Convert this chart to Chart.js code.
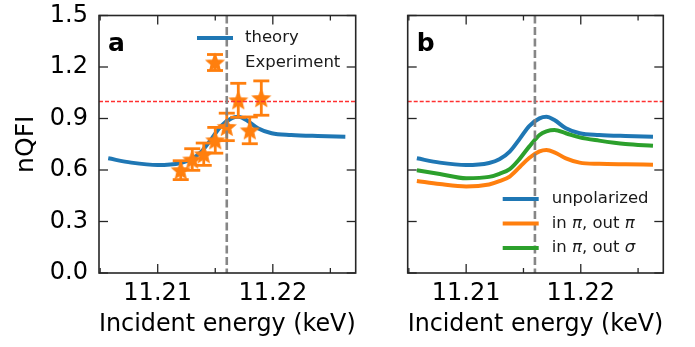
<!DOCTYPE html>
<html>
<head>
<meta charset="utf-8">
<script src="https://cdn.jsdelivr.net/npm/chart.js@4/dist/chart.umd.min.js"></script>
<style>
  body { margin: 0; background: #fff; width: 695px; height: 347px; position: relative; overflow: hidden; }
  canvas { position: absolute; top: 0; }
  #chartA { left: 0; }
  #chartB { left: 372px; }
</style>
</head>
<body>
<canvas id="chartA" width="370" height="347"></canvas>
<canvas id="chartB" width="295" height="347"></canvas>
<script>
// theory curves (keV -> nQFI)
const energy = [11.2057, 11.2077, 11.2100, 11.2120, 11.2129, 11.2138, 11.2147, 11.2155,
                11.2164, 11.2170, 11.2177, 11.2187, 11.2199, 11.2216, 11.2239, 11.2263];
const unpolarized = [0.668, 0.643, 0.629, 0.641, 0.662, 0.707, 0.784, 0.856,
                     0.901, 0.910, 0.891, 0.843, 0.814, 0.804, 0.798, 0.794];
const inPiOutPi = [0.536, 0.518, 0.504, 0.516, 0.535, 0.562, 0.619, 0.670,
                   0.708, 0.716, 0.703, 0.668, 0.643, 0.636, 0.633, 0.631];
const inPiOutSigma = [0.598, 0.577, 0.552, 0.560, 0.578, 0.605, 0.668, 0.736,
                      0.804, 0.825, 0.833, 0.814, 0.790, 0.771, 0.751, 0.741];

// experiment with error bars
const expEnergy = [11.212, 11.213, 11.214, 11.215, 11.216, 11.217, 11.218, 11.219];
const expQFI = [0.599, 0.661, 0.692, 0.773, 0.851, 1.006, 0.831, 1.019];
const expErr = [0.055, 0.063, 0.065, 0.075, 0.080, 0.099, 0.078, 0.100];

// reference lines
const edgeEnergy = 11.216;
const qfiBound = 1.0;

// axes
const xMin = 11.2049, xMax = 11.2272;
const xTickLabels = ['11.21', '11.22'];
const yTickLabels = ['0.0', '0.3', '0.6', '0.9', '1.2', '1.5'];

const FONT = 'DejaVu Sans';
const INK = '#262626';
const BLUE = '#1f77b4', ORANGE = '#ff7f0e', GREEN = '#2ca02c';

function toXY(xs, ys) { return xs.map((x, i) => ({ x: x, y: ys[i] })); }

// filled 5 point star like matplotlib '*'
function makeStar(r, color) {
  const c = document.createElement('canvas');
  const s = Math.ceil(r * 2 + 4);
  c.width = s; c.height = s;
  const g = c.getContext('2d');
  g.translate(s / 2, s / 2 + 0.8);
  g.beginPath();
  for (let i = 0; i < 10; i++) {
    const rad = i % 2 ? r * 0.45 : r;
    const a = -Math.PI / 2 + i * Math.PI / 5;
    g.lineTo(rad * Math.cos(a), rad * Math.sin(a));
  }
  g.closePath();
  g.fillStyle = color; g.fill();
  g.strokeStyle = color; g.lineWidth = 1.2; g.stroke();
  return c;
}
const star = makeStar(9, ORANGE);

function seg(ctx, x1, y1, x2, y2) {
  ctx.beginPath(); ctx.moveTo(x1, y1); ctx.lineTo(x2, y2); ctx.stroke();
}

function drawErrorBar(ctx, x, yLo, yHi) {
  ctx.save();
  ctx.strokeStyle = ORANGE;
  ctx.lineWidth = 2.8;
  seg(ctx, x, yLo, x, yHi);
  seg(ctx, x - 8, yLo, x + 8, yLo);
  seg(ctx, x - 8, yHi, x + 8, yHi);
  ctx.restore();
}

// text with italic pieces (for the greek letters)
function drawRuns(ctx, runs, x, y, size) {
  runs.forEach(r => {
    ctx.font = (r[1] ? 'italic ' : '') + size + 'px "' + FONT + '"';
    ctx.fillText(r[0], x, y);
    x += ctx.measureText(r[0]).width;
  });
}

// inward ticks on all sides + frame
const framePlugin = {
  id: 'frame',
  afterDraw(chart) {
    const { ctx, chartArea: a, scales } = chart;
    ctx.save();
    ctx.strokeStyle = INK;
    ctx.lineWidth = 1.3;
    scales.x.ticks.forEach(t => {
      const px = scales.x.getPixelForValue(t.value);
      const len = t.label ? 9 : 5;
      seg(ctx, px, a.bottom, px, a.bottom - len);
      seg(ctx, px, a.top, px, a.top + len);
    });
    scales.y.ticks.forEach(t => {
      const py = scales.y.getPixelForValue(t.value);
      const len = t.label ? 9 : 5;
      seg(ctx, a.left, py, a.left + len, py);
      seg(ctx, a.right, py, a.right - len, py);
    });
    ctx.lineWidth = 1.6;
    ctx.strokeRect(a.left, a.top, a.right - a.left, a.bottom - a.top);
    ctx.restore();
  }
};

// red bound line and gray edge line on top of the data
const refLines = {
  id: 'refLines',
  afterDatasetsDraw(chart) {
    const { ctx, chartArea: a, scales } = chart;
    const px = scales.x.getPixelForValue(edgeEnergy);
    const py = Math.round(scales.y.getPixelForValue(qfiBound)) + 0.5;
    ctx.save();
    ctx.strokeStyle = '#ff3030';
    ctx.lineWidth = 1.4;
    ctx.setLineDash([4, 2]);
    seg(ctx, a.left, py, a.right, py);
    ctx.strokeStyle = 'rgba(128,128,128,0.95)';
    ctx.lineWidth = 2.6;
    ctx.setLineDash([8, 3.5]);
    seg(ctx, px, a.top, px, a.bottom);
    ctx.restore();
  }
};

const errorBars = {
  id: 'errorBars',
  beforeDatasetDraw(chart, args) {
    const ds = chart.data.datasets[args.index];
    if (!ds.errors) return;
    const { x, y } = chart.scales;
    ds.data.forEach((p, i) => {
      drawErrorBar(chart.ctx, x.getPixelForValue(p.x),
        y.getPixelForValue(p.y - ds.errors[i]), y.getPixelForValue(p.y + ds.errors[i]));
    });
  }
};

function panelLabel(letter) {
  return {
    id: 'panelLabel',
    afterDraw(chart) {
      const { ctx, chartArea: a } = chart;
      ctx.save();
      ctx.fillStyle = '#000';
      ctx.font = 'bold 25px "' + FONT + '"';
      ctx.textBaseline = 'alphabetic';
      ctx.fillText(letter, a.left + 9, a.top + 35);
      ctx.restore();
    }
  };
}

const legendA = {
  id: 'legendA',
  afterDraw(chart) {
    const { ctx, chartArea: a } = chart;
    const x0 = a.left + 98, y1 = a.top + 22.5, y2 = a.top + 47;
    ctx.save();
    ctx.strokeStyle = BLUE; ctx.lineWidth = 4;
    seg(ctx, x0, y1, x0 + 36, y1);
    drawErrorBar(ctx, x0 + 18, y2 + 8, y2 - 8);
    ctx.drawImage(star, x0 + 18 - star.width / 2, y2 - star.height / 2);
    ctx.fillStyle = '#1a1a1a';
    ctx.textBaseline = 'middle';
    drawRuns(ctx, [['theory']], x0 + 48, y1, 16.5);
    drawRuns(ctx, [['Experiment']], x0 + 48, y2, 16.5);
    ctx.restore();
  }
};

const legendB = {
  id: 'legendB',
  afterDraw(chart) {
    const { ctx, chartArea: a } = chart;
    const rows = [
      [BLUE, [['unpolarized']]],
      [ORANGE, [['in '], ['π', true], [', out '], ['π', true]]],
      [GREEN, [['in '], ['π', true], [', out '], ['σ', true]]]
    ];
    const x0 = a.left + 95;
    ctx.save();
    ctx.textBaseline = 'middle';
    rows.forEach((r, i) => {
      const y = a.top + 183.5 + i * 24.5;
      ctx.strokeStyle = r[0]; ctx.lineWidth = 4;
      seg(ctx, x0, y, x0 + 36, y);
      ctx.fillStyle = '#1a1a1a';
      drawRuns(ctx, r[1], x0 + 49, y, 16.5);
    });
    ctx.restore();
  }
};

function makeOptions(leftWidth, rightPad, showY) {
  return {
    responsive: false,
    animation: false,
    devicePixelRatio: 1,
    layout: { padding: { top: 15.5, right: rightPad, left: 0, bottom: 0 } },
    plugins: { legend: { display: false }, tooltip: { enabled: false } },
    scales: {
      x: {
        type: 'linear', min: xMin, max: xMax,
        grid: { display: false, drawTicks: false, tickLength: 0 },
        border: { display: false },
        ticks: {
          stepSize: 0.005, includeBounds: false, autoSkip: false, maxRotation: 0,
          padding: 6, color: '#000',
          font: { family: FONT, size: 24 },
          callback: v => xTickLabels.includes(v.toFixed(2)) && Math.abs(v * 100 - Math.round(v * 100)) < 1e-6 ? v.toFixed(2) : ''
        },
        title: { display: true, text: 'Incident energy (keV)', color: '#000',
                 font: { family: FONT, size: 25.5 }, padding: { top: 0, bottom: 7 } },
        afterFit: s => { s.height = 74; s.paddingLeft = 0; s.paddingRight = 0; }
      },
      y: {
        min: 0, max: 1.5,
        grid: { display: false, drawTicks: false, tickLength: 0 },
        border: { display: false },
        ticks: {
          stepSize: 0.15, padding: 11, color: showY ? '#000' : 'rgba(0,0,0,0)',
          font: { family: FONT, size: 24 },
          callback: v => Math.abs(v / 0.3 - Math.round(v / 0.3)) < 1e-6 && yTickLabels.includes(v.toFixed(1)) ? v.toFixed(1) : ''
        },
        title: { display: showY, text: 'nQFI', color: '#000',
                 font: { family: FONT, size: 25 }, padding: { top: 11, bottom: 0 } },
        afterFit: s => { s.width = leftWidth; s.paddingTop = 0; s.paddingBottom = 0; }
      }
    }
  };
}

const lineStyle = { pointRadius: 0, borderWidth: 4, fill: false, tension: 0.4, cubicInterpolationMode: 'monotone' };

new Chart(document.getElementById('chartA'), {
  type: 'line',
  data: {
    datasets: [
      { label: 'Experiment', data: toXY(expEnergy, expQFI), errors: expErr, showLine: false,
        pointStyle: star, pointRadius: 9, borderColor: ORANGE, backgroundColor: ORANGE },
      Object.assign({ label: 'theory', data: toXY(energy, unpolarized), borderColor: BLUE }, lineStyle)
    ]
  },
  options: makeOptions(99, 14.3, true),
  plugins: [errorBars, refLines, framePlugin, panelLabel('a'), legendA]
});

new Chart(document.getElementById('chartB'), {
  type: 'line',
  data: {
    datasets: [
      Object.assign({ label: 'in π, out σ', data: toXY(energy, inPiOutSigma), borderColor: GREEN }, lineStyle),
      Object.assign({ label: 'in π, out π', data: toXY(energy, inPiOutPi), borderColor: ORANGE }, lineStyle),
      Object.assign({ label: 'unpolarized', data: toXY(energy, unpolarized), borderColor: BLUE }, lineStyle)
    ]
  },
  options: makeOptions(35.7, 3.7, false),
  plugins: [refLines, framePlugin, panelLabel('b'), legendB]
});
</script>
</body>
</html>
